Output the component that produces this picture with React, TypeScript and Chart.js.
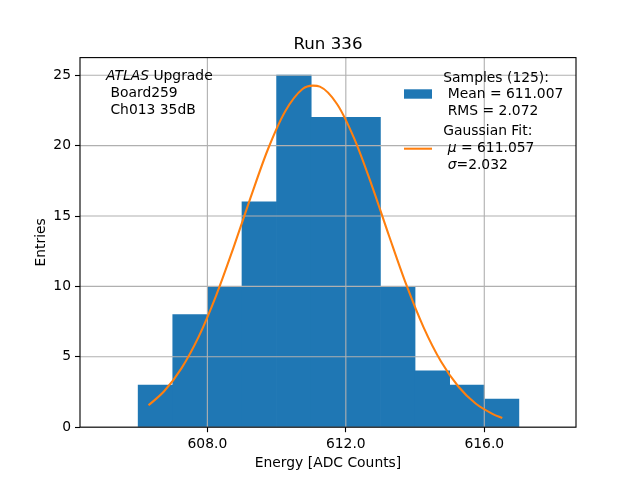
import React, { useEffect, useRef } from "react";
import { Chart, registerables } from "chart.js";

Chart.register(...registerables);

// Histogram data (bin centers, bin width 1)
const binCenters = [606.5, 607.5, 608.5, 609.5, 610.5, 611.5, 612.5, 613.5, 614.5, 615.5, 616.5];
const binCounts = [3, 8, 10, 16, 25, 22, 22, 10, 4, 3, 2];

// Gaussian fit curve
const fitX = [606.3, 606.75, 607.25, 607.75, 608.25, 608.75, 609.25, 609.75, 610.25, 610.75, 611.05, 611.25, 611.75, 612.25, 612.75, 613.25, 613.75, 614.25, 614.75, 615.25, 615.75, 616.25, 616.52];
const fitY = [1.56, 2.55, 4.18, 6.43, 9.33, 12.72, 16.32, 19.74, 22.44, 24.02, 24.26, 24.19, 22.94, 20.46, 17.18, 13.58, 10.1, 7.07, 4.66, 2.89, 1.68, 0.93, 0.65];

const xTicks = [608, 612, 616];
const yTicks = [0, 5, 10, 15, 20, 25];

const titleText = "Run 336";
const xLabel = "Energy [ADC Counts]";
const yLabel = "Entries";
const histLabelLines = ["Samples (125):", " Mean = 611.007", " RMS = 2.072"];
const fitLabelTitle = "Gaussian Fit:";
const fitMu = "611.057";
const fitSigma = "2.032";
const infoLines = [" Board259", " Ch013 35dB"];

const FONT = '"DejaVu Sans", sans-serif';
const F10 = `13.89px ${FONT}`;
const F10I = `italic 13.89px ${FONT}`;
const F12 = `16.67px ${FONT}`;

function drawSegs(ctx: CanvasRenderingContext2D, x: number, y: number, segs: { t: string; i?: boolean }[]) {
  let cx = x;
  for (const s of segs) {
    ctx.font = s.i ? F10I : F10;
    ctx.fillText(s.t, cx, y);
    cx += ctx.measureText(s.t).width;
  }
}

const gridPlugin = {
  id: "mplGrid",
  afterDatasetDraw(chart: any, args: any) {
    if (args.index !== 0) return;
    const { ctx, chartArea } = chart;
    const xs = chart.scales.x;
    const ys = chart.scales.y;
    ctx.save();
    ctx.beginPath();
    ctx.rect(chartArea.left, chartArea.top, chartArea.right - chartArea.left, chartArea.bottom - chartArea.top);
    ctx.clip();
    ctx.strokeStyle = "#b0b0b0";
    ctx.lineWidth = 1.11;
    for (const v of xTicks) {
      const px = xs.getPixelForValue(v);
      ctx.beginPath();
      ctx.moveTo(px, chartArea.top);
      ctx.lineTo(px, chartArea.bottom);
      ctx.stroke();
    }
    for (const v of yTicks) {
      const py = ys.getPixelForValue(v);
      ctx.beginPath();
      ctx.moveTo(chartArea.left, py);
      ctx.lineTo(chartArea.right, py);
      ctx.stroke();
    }
    ctx.restore();
  },
};

const decorPlugin = {
  id: "mplDecor",
  afterDraw(chart: any) {
    const { ctx, chartArea } = chart;
    const cx = (chartArea.left + chartArea.right) / 2;
    const cy = (chartArea.top + chartArea.bottom) / 2;
    ctx.save();
    // spines
    ctx.strokeStyle = "#000";
    ctx.lineWidth = 1.11;
    ctx.strokeRect(chartArea.left, chartArea.top, chartArea.right - chartArea.left, chartArea.bottom - chartArea.top);

    ctx.fillStyle = "#000";
    ctx.textBaseline = "alphabetic";
    // title
    ctx.font = F12;
    ctx.textAlign = "center";
    ctx.fillText(titleText, cx, 49.3);
    // x label
    ctx.font = F10;
    ctx.fillText(xLabel, cx, 466.7);
    // y label
    ctx.save();
    ctx.translate(44.5, cy);
    ctx.rotate(-Math.PI / 2);
    ctx.textAlign = "center";
    ctx.fillText(yLabel, 0, 0);
    ctx.restore();

    ctx.textAlign = "left";
    // info text
    drawSegs(ctx, 106, 79.5, [{ t: "ATLAS", i: true }, { t: " Upgrade" }]);
    ctx.font = F10;
    ctx.fillText(infoLines[0], 106, 96.5);
    ctx.fillText(infoLines[1], 106, 113.5);

    // legend
    ctx.fillStyle = "#1f77b4";
    ctx.fillRect(404, 89.3, 28, 9.4);
    ctx.strokeStyle = "#ff7f0e";
    ctx.lineWidth = 2.08;
    ctx.beginPath();
    ctx.moveTo(404, 148.7);
    ctx.lineTo(432, 148.7);
    ctx.stroke();

    ctx.fillStyle = "#000";
    ctx.font = F10;
    ctx.fillText(histLabelLines[0], 443.3, 81.5);
    ctx.fillText(histLabelLines[1], 443.3, 98.3);
    ctx.fillText(histLabelLines[2], 443.3, 115);
    ctx.fillText(fitLabelTitle, 443.3, 135);
    drawSegs(ctx, 443.3, 151.8, [{ t: " " }, { t: "μ", i: true }, { t: " = " + fitMu }]);
    drawSegs(ctx, 443.3, 168.8, [{ t: " " }, { t: "σ", i: true }, { t: "=" + fitSigma }]);
    ctx.restore();
  },
};

export default function App() {
  const ref = useRef<HTMLCanvasElement | null>(null);
  useEffect(() => {
    if (!ref.current) return;
    const chart = new Chart(ref.current, {
      type: "bar",
      data: {
        datasets: [
          {
            type: "bar",
            label: "hist",
            data: binCenters.map((x, i) => ({ x, y: binCounts[i] })),
            backgroundColor: "#1f77b4",
            borderWidth: 0,
            barPercentage: 1,
            categoryPercentage: 1,
            order: 2,
          } as any,
          {
            type: "line",
            label: "fit",
            data: fitX.map((x, i) => ({ x, y: fitY[i] })),
            borderColor: "#ff7f0e",
            borderWidth: 2.08,
            pointRadius: 0,
            fill: false,
            cubicInterpolationMode: "monotone",
            order: 1,
          } as any,
        ],
      },
      options: {
        animation: false,
        responsive: false,
        devicePixelRatio: 1,
        layout: { padding: { top: 57.6, right: 64, left: 0, bottom: 0 } },
        plugins: { legend: { display: false }, tooltip: { enabled: false }, title: { display: false } },
        scales: {
          x: {
            type: "linear",
            min: 604.32,
            max: 618.65,
            offset: false,
            afterBuildTicks: (s: any) => {
              s.ticks = xTicks.map((v) => ({ value: v }));
            },
            afterFit: (s: any) => {
              s.height = 52.8;
            },
            ticks: {
              callback: (v: any) => Number(v).toFixed(1),
              color: "#000",
              font: { family: FONT, size: 13.89 },
              maxRotation: 0,
              autoSkip: false,
              padding: 4,
            },
            grid: { offset: false, drawOnChartArea: false, drawTicks: true, tickLength: 5, tickColor: "#000", tickWidth: 1.11 },
            border: { display: false },
          },
          y: {
            type: "linear",
            min: 0,
            max: 26.25,
            afterBuildTicks: (s: any) => {
              s.ticks = yTicks.map((v) => ({ value: v }));
            },
            afterFit: (s: any) => {
              s.width = 80;
            },
            ticks: {
              callback: (v: any) => String(v),
              color: "#000",
              font: { family: FONT, size: 13.89 },
              autoSkip: false,
              padding: 4,
            },
            grid: { offset: false, drawOnChartArea: false, drawTicks: true, tickLength: 5, tickColor: "#000", tickWidth: 1.11 },
            border: { display: false },
          },
        },
      } as any,
      plugins: [gridPlugin, decorPlugin],
    });
    return () => chart.destroy();
  }, []);
  return (
    <div style={{ position: "fixed", left: 0, top: 0, width: 640, height: 480, background: "#fff" }}>
      <canvas ref={ref} width={640} height={480} />
    </div>
  );
}
